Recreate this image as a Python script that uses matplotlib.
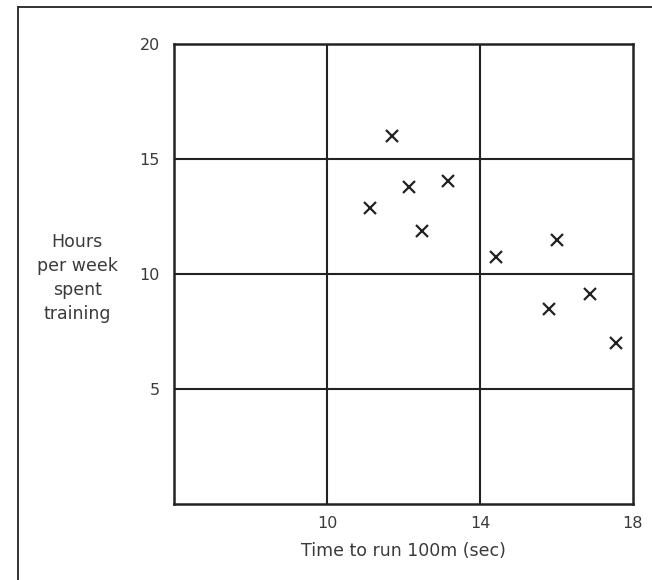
import matplotlib
matplotlib.use("Agg")
import matplotlib.pyplot as plt
from matplotlib.lines import Line2D

# Data
run_time = [11.7, 12.15, 13.16, 11.12, 12.49, 14.42, 16.0, 15.81, 16.88, 17.55]
hours = [16.0, 13.8, 14.06, 12.86, 11.87, 10.73, 11.47, 8.47, 9.12, 7.01]
x_ticks = [10, 14, 18]
y_ticks = [5, 10, 15, 20]

W, H = 652, 580
dpi = 100
fig = plt.figure(figsize=(W / dpi, H / dpi), dpi=dpi)
plt.rcParams['font.family'] = ['DejaVu Sans']

ax = fig.add_axes([174 / W, 1 - 504 / H, (633 - 174) / W, (504 - 44) / H])
ax.set_xlim(6, 18)
ax.set_ylim(0, 20)

line_col = '#222222'
for xv in [10, 14]:
    ax.axvline(xv, color=line_col, lw=1.5, zorder=1)
for yv in [5, 10, 15]:
    ax.axhline(yv, color=line_col, lw=1.5, zorder=1)

ax.plot(run_time, hours, linestyle='none', marker='x', markersize=8.5,
        markeredgewidth=1.6, color=line_col, zorder=3)

for s in ax.spines.values():
    s.set_color(line_col)
    s.set_linewidth(1.8)

ax.set_xticks(x_ticks)
ax.set_yticks(y_ticks)
ax.tick_params(length=0, labelsize=11.5, colors='#3a3a3a', pad=9)
ax.tick_params(axis='y', pad=10)

fig.text(403 / W, 1 - 551 / H, 'Time to run 100m (sec)', ha='center', va='center',
         fontsize=12.5, color='#3a3a3a')
fig.text(77 / W, 1 - 278 / H, 'Hours\nper week\nspent\ntraining', ha='center', va='center',
         fontsize=12.5, color='#3a3a3a', linespacing=1.45)

# outer frame (left and top visible)
fig.add_artist(Line2D([18 / W, 18 / W], [0, 1 - 7 / H], transform=fig.transFigure,
                      color='#333333', lw=1.4))
fig.add_artist(Line2D([18 / W, 1], [1 - 7 / H, 1 - 7 / H], transform=fig.transFigure,
                      color='#333333', lw=1.4))

fig.savefig('out.png', dpi=dpi)
